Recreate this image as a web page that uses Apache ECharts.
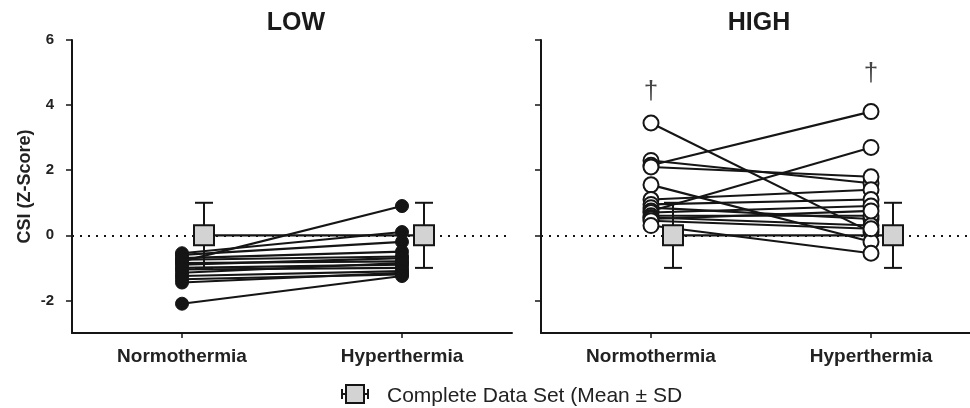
<!DOCTYPE html>
<html>
<head>
<meta charset="utf-8">
<script src="https://cdn.jsdelivr.net/npm/echarts@6/dist/echarts.min.js"></script>
<style>
html,body{margin:0;padding:0;background:#fff;}
#chart{width:970px;height:408px;}
</style>
</head>
<body>
<div id="chart"></div>
<script>
// ---- data ----
const categories = ['Normothermia', 'Hyperthermia'];
const panelTitles = ['LOW', 'HIGH'];
const yTicks = [-2, 0, 2, 4, 6];

const lowNormo  = [-0.55, -0.8, -0.6, -0.7, -0.75, -0.85, -0.9, -1.0, -1.05, -1.15, -1.25, -1.35, -1.45, -2.1];
const lowHyper  = [0.1, 0.9, -0.2, -0.5, -0.65, -0.8, -0.7, -0.9, -1.0, -0.85, -1.1, -1.2, -1.15, -1.25];

const highNormo = [3.45, 2.3, 2.15, 2.1, 1.55, 1.1, 0.95, 0.85, 0.75, 0.7, 0.6, 0.55, 0.5, 0.45, 0.3];
const highHyper = [0.1, 1.6, 3.8, 1.8, -0.2, 1.4, 1.1, 0.5, 2.7, 0.9, 0.6, 0.3, 0.75, 0.2, -0.55];

const lowMean  = [0, 0];
const lowSD    = [1, 1];
const highMean = [0, 0];
const highSD   = [1, 1];

const daggerY = [4.4, 4.95];   // "†" marks above HIGH columns
const legendText = 'Complete Data Set (Mean \u00b1 SD';

// ---- build ----
const chart = echarts.init(document.getElementById('chart'));
const INK = '#151515';
const MEAN_OFFSET = 0.1;
const catPos = categories.map((c, i) => i + 1);

function xAxisDef(gi, xmax) {
  return {
    type: 'value', gridIndex: gi, min: 0.5, max: xmax,
    axisLine: { show: true, onZero: false, lineStyle: { color: INK, width: 2 } },
    axisTick: { show: true, customValues: catPos, length: 5, lineStyle: { color: INK, width: 1.5 } },
    axisLabel: {
      show: true, customValues: catPos, margin: 14,
      formatter: v => categories[Math.round(v) - 1] || '',
      fontFamily: 'Liberation Sans, Arial, sans-serif', fontWeight: 'bold', fontSize: 19, color: '#222'
    },
    splitLine: { show: false }
  };
}
function yAxisDef(gi, showLabels) {
  const a = {
    type: 'value', gridIndex: gi, min: -3, max: 6,
    axisLine: { show: true, onZero: false, lineStyle: { color: INK, width: 2 } },
    axisTick: { show: true, customValues: yTicks, length: 6, lineStyle: { color: INK, width: 1.5 } },
    axisLabel: {
      show: showLabels, customValues: yTicks, margin: 18,
      fontFamily: 'Liberation Sans, Arial, sans-serif', fontWeight: 'bold', fontSize: 15, color: '#222'
    },
    splitLine: { show: false }
  };
  if (showLabels) {
    a.name = 'CSI (Z-Score)';
    a.nameLocation = 'middle';
    a.nameRotate = 90;
    a.nameGap = 38;
    a.nameTextStyle = { fontFamily: 'Liberation Sans, Arial, sans-serif', fontWeight: 'bold', fontSize: 18, color: '#222' };
  }
  return a;
}

const series = [];

// zero dotted reference lines
[0, 1].forEach(gi => {
  series.push({
    type: 'line', xAxisIndex: gi, yAxisIndex: gi, data: [], z: 1, silent: true,
    markLine: {
      silent: true, symbol: 'none', label: { show: false },
      lineStyle: { type: [2, 6], color: INK, width: 2 },
      data: [{ yAxis: 0 }]
    }
  });
});

// error bars
function errSeries(gi, means, sds) {
  return {
    type: 'custom', xAxisIndex: gi, yAxisIndex: gi, z: 2, silent: true,
    data: means.map((m, i) => [catPos[i] + MEAN_OFFSET, m, sds[i]]),
    renderItem: function (params, api) {
      const x = api.value(0), m = api.value(1), sd = api.value(2);
      const top = api.coord([x, m + sd]);
      const bot = api.coord([x, m - sd]);
      const hw = 9;
      const st = { stroke: INK, lineWidth: 2 };
      return {
        type: 'group', children: [
          { type: 'line', shape: { x1: top[0], y1: top[1], x2: bot[0], y2: bot[1] }, style: st },
          { type: 'line', shape: { x1: top[0] - hw, y1: top[1], x2: top[0] + hw, y2: top[1] }, style: st },
          { type: 'line', shape: { x1: bot[0] - hw, y1: bot[1], x2: bot[0] + hw, y2: bot[1] }, style: st }
        ]
      };
    }
  };
}
series.push(errSeries(0, lowMean, lowSD));
series.push(errSeries(1, highMean, highSD));

// mean connecting lines
function meanLine(gi, means) {
  return {
    type: 'line', xAxisIndex: gi, yAxisIndex: gi, z: 3, silent: true,
    data: means.map((m, i) => [catPos[i] + MEAN_OFFSET, m]),
    symbol: 'none', lineStyle: { color: INK, width: 2.2 }
  };
}
series.push(meanLine(0, lowMean));
series.push(meanLine(1, highMean));

// individual subjects
function subjects(gi, a, b, filled) {
  a.forEach((v, i) => {
    series.push({
      type: 'line', xAxisIndex: gi, yAxisIndex: gi, z: 4, silent: true,
      data: [[catPos[0], v], [catPos[1], b[i]]],
      symbol: 'circle', symbolSize: filled ? 13 : 15,
      itemStyle: filled ? { color: INK, borderColor: INK, borderWidth: 1 } : { color: '#fff', borderColor: INK, borderWidth: 2 },
      lineStyle: { color: INK, width: 2.1 }
    });
  });
}
subjects(0, lowNormo, lowHyper, true);
subjects(1, highNormo, highHyper, false);

// mean squares
function meanSquares(gi, means) {
  return {
    type: 'scatter', xAxisIndex: gi, yAxisIndex: gi, z: 6, silent: true,
    data: means.map((m, i) => [catPos[i] + MEAN_OFFSET, m]),
    symbol: 'rect', symbolSize: 20,
    itemStyle: { color: '#d3d3d3', borderColor: INK, borderWidth: 2, opacity: 1 }
  };
}
series.push(meanSquares(0, lowMean));
series.push(meanSquares(1, highMean));

// daggers
series.push({
  type: 'scatter', xAxisIndex: 1, yAxisIndex: 1, z: 7, silent: true,
  data: daggerY.map((y, i) => [catPos[i], y]),
  symbolSize: 0,
  label: { show: true, position: 'inside', formatter: '\u2020', fontSize: 26, fontWeight: 'normal', color: INK, fontFamily: 'Liberation Sans, Arial, sans-serif' }
});

const option = {
  backgroundColor: '#fff',
  animation: false,
  grid: [
    { left: 72, top: 40, width: 440, height: 293 },
    { left: 541, top: 40, width: 429, height: 293 }
  ],
  xAxis: [xAxisDef(0, 2.5), xAxisDef(1, 2.45)],
  yAxis: [yAxisDef(0, true), yAxisDef(1, false)],
  series: series,
  graphic: [
    { type: 'text', x: 296, y: 23, style: { text: panelTitles[0], textAlign: 'center', textVerticalAlign: 'middle', font: 'bold 25px "Liberation Sans", Arial, sans-serif', fill: '#1a1a1a' } },
    { type: 'text', x: 759, y: 23, style: { text: panelTitles[1], textAlign: 'center', textVerticalAlign: 'middle', font: 'bold 25px "Liberation Sans", Arial, sans-serif', fill: '#1a1a1a' } },
    // legend icon
    { type: 'line', shape: { x1: 342, y1: 394, x2: 368, y2: 394 }, style: { stroke: INK, lineWidth: 2 } },
    { type: 'line', shape: { x1: 342, y1: 389, x2: 342, y2: 399 }, style: { stroke: INK, lineWidth: 2 } },
    { type: 'line', shape: { x1: 368, y1: 389, x2: 368, y2: 399 }, style: { stroke: INK, lineWidth: 2 } },
    { type: 'rect', shape: { x: 346, y: 385, width: 18, height: 18 }, style: { fill: '#d3d3d3', stroke: INK, lineWidth: 2 } },
    { type: 'text', x: 387, y: 396, style: { text: legendText, textAlign: 'left', textVerticalAlign: 'middle', font: '21px "Liberation Sans", Arial, sans-serif', fill: '#222' } }
  ]
};
chart.setOption(option);
</script>
</body>
</html>
